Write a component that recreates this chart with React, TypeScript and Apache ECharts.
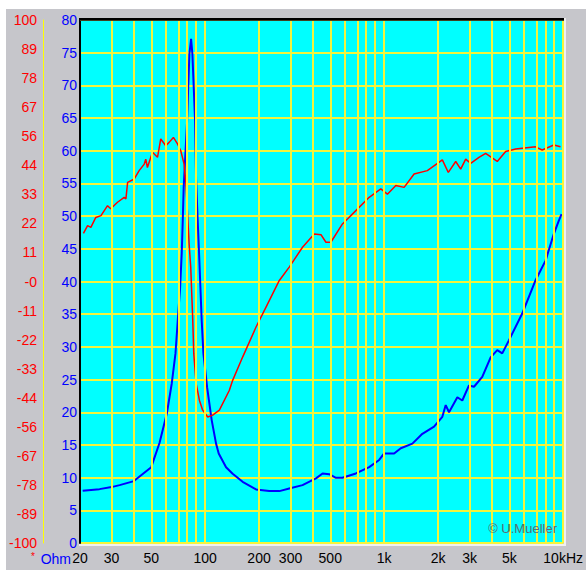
import React, { useEffect, useRef } from "react";
import * as echarts from "echarts";

// Impedance curve (Ohm) vs frequency (Hz)
const IMP_FREQ = [20.7, 25.7, 30, 33.3, 40, 50, 55.6, 61.1, 65.1, 68.3, 70.3, 72.5, 74.0, 75.0, 75.9, 77.6, 79.3, 80.4, 81.7, 83.5, 84.9, 86.4, 87.9, 89.0, 90.9, 92.5, 94.1, 95.7, 97.8, 102.6, 108.8, 115.1, 119.1, 130.9, 142.5, 162, 192.5, 228, 260, 295, 350, 416, 453, 493, 538, 585, 695, 825, 938, 1000, 1137, 1239, 1438, 1635, 1900, 2114, 2208, 2304, 2564, 2733, 2978, 3176, 3533, 3935, 4284, 4568, 4977, 5906, 7014, 7974, 8872, 9460, 9794];
const IMP_OHM = [7.98, 8.24, 8.55, 8.85, 9.47, 11.6, 15.3, 19.8, 24.4, 29.0, 34.0, 39.1, 44.3, 49.3, 54.4, 59.5, 64.5, 69.6, 74.8, 77.1, 74.8, 69.6, 64.5, 55.7, 49.3, 44.3, 39.1, 34.0, 29.0, 23.8, 18.8, 15.2, 13.7, 11.6, 10.6, 9.36, 8.2, 7.94, 7.94, 8.35, 8.85, 9.88, 10.64, 10.53, 9.97, 9.97, 10.64, 11.6, 12.7, 13.7, 13.7, 14.5, 15.2, 16.7, 17.8, 19.3, 21.1, 20.0, 22.3, 21.8, 24.1, 23.9, 25.4, 28.4, 29.5, 29.0, 31.0, 35.1, 40.2, 43.2, 47.3, 49.3, 50.3];

// Phase curve (degrees) vs frequency (Hz)
const PHASE_FREQ = [20.9, 22.05, 23.0, 24.5, 26.2, 28.5, 29.7, 32.4, 35.3, 36.1, 36.9, 40.2, 42.8, 45.7, 46.6, 47.6, 50.8, 54.2, 56.5, 60.3, 62.9, 66.5, 70.1, 73.1, 76.3, 77.9, 79.6, 81.4, 83.1, 85.3, 86.4, 89.0, 92.9, 96.9, 103.4, 110.2, 120.1, 136.6, 142.5, 162, 192.5, 218.9, 259.7, 295, 350, 407, 443.6, 473, 504, 585, 695, 825, 958, 1043, 1162, 1293, 1470, 1743, 2114, 2283, 2511, 2677, 2855, 3044, 3386, 3690, 4284, 4773, 5426, 7014, 7636, 8872, 9666];
const PHASE_DEG = [18.4, 21.4, 20.7, 24.5, 25.2, 29.0, 27.8, 30.3, 32.2, 31.6, 37.9, 39.2, 42.4, 44.9, 46.8, 43.6, 49.4, 47.5, 54.5, 51.9, 53.2, 55.1, 52.6, 50.0, 44.9, 38.6, 27.1, 14.4, 5.5, -14.9, -27.5, -38.9, -45.4, -49.2, -51.8, -51.1, -49.2, -41.6, -37.8, -28.9, -17.4, -9.8, 0.4, 5.5, 13.1, 18.2, 17.9, 15.0, 15.0, 22.0, 27.1, 32.2, 35.4, 33.4, 36.7, 36.0, 41.1, 42.4, 46.5, 41.7, 45.9, 43.0, 46.8, 45.2, 47.5, 49.0, 45.9, 49.7, 50.7, 51.5, 50.3, 52.2, 51.5];

// Axes
const X_MIN_FREQ = 20;
const X_MAX_FREQ = 10000;
const X_GRID_FREQ = [20, 30, 40, 50, 60, 70, 80, 90, 100, 200, 300, 400, 500, 600, 700, 800, 900, 1000, 2000, 3000, 4000, 5000, 6000, 7000, 8000, 9000, 10000];
const X_TICK_FREQ = [20, 30, 50, 100, 200, 300, 500, 1000, 2000, 3000, 5000, 10000];
const X_TICK_LABELS = ["20", "30", "50", "100", "200", "300", "500", "1k", "2k", "3k", "5k", "10kHz"];
const OHM_MIN = 0;
const OHM_MAX = 80;
const OHM_STEP = 5;
const PHASE_MIN = -100;
const PHASE_MAX = 100;
const PHASE_TICK_LABELS = ["-100", "-89", "-78", "-67", "-56", "-44", "-33", "-22", "-11", "-0", "11", "22", "33", "44", "56", "67", "78", "89", "100"];

const FONT = '"Liberation Sans", Arial, sans-serif';
const FS = 14;
const GRIDY = "#f4f43c";

export default function App() {
  const ref = useRef<HTMLDivElement>(null);

  useEffect(() => {
    if (!ref.current) return;
    const chart = echarts.init(ref.current, undefined, { renderer: "svg" });
    const lg = (f: number) => Math.log10(f);
    const phaseStep = (PHASE_MAX - PHASE_MIN) / (PHASE_TICK_LABELS.length - 1);

    const option: any = {
      animation: false,
      backgroundColor: "#c6c6cb",
      grid: {
        left: 80,
        right: 22,
        top: 20,
        bottom: 27,
        show: true,
        backgroundColor: "#00ffff",
        borderWidth: 0,
      },
      xAxis: {
        type: "value",
        min: lg(X_MIN_FREQ),
        max: lg(X_MAX_FREQ),
        axisLine: { show: false },
        axisTick: { show: false },
        splitLine: { show: false },
        axisLabel: {
          customValues: X_TICK_FREQ.map(lg),
          showMinLabel: true,
          showMaxLabel: true,
          color: "#000000",
          fontFamily: FONT,
          fontSize: FS,
          margin: 8,
          formatter: (v: number) => {
            const i = X_TICK_FREQ.findIndex((f) => Math.abs(lg(f) - v) < 1e-6);
            return i >= 0 ? X_TICK_LABELS[i] : "";
          },
        },
      },
      yAxis: [
        {
          type: "value",
          min: OHM_MIN,
          max: OHM_MAX,
          interval: OHM_STEP,
          position: "left",
          axisLine: { show: true, lineStyle: { color: "#000000", width: 2 } },
          axisTick: { show: false },
          splitLine: { show: true, lineStyle: { color: GRIDY, width: 2 } },
          axisLabel: {
            color: "#0000ff",
            fontFamily: FONT,
            fontSize: FS,
            margin: 3,
          },
        },
        {
          type: "value",
          min: PHASE_MIN,
          max: PHASE_MAX,
          interval: phaseStep,
          position: "left",
          offset: 37,
          axisLine: { show: true, lineStyle: { color: "#ffff00", width: 1 } },
          axisTick: { show: false },
          splitLine: { show: false },
          axisLabel: {
            color: "#ff0000",
            fontFamily: FONT,
            fontSize: FS,
            margin: 6,
            showMinLabel: true,
            showMaxLabel: true,
            formatter: (v: number) => PHASE_TICK_LABELS[Math.round((v - PHASE_MIN) / phaseStep)] ?? "",
          },
        },
      ],
      graphic: [
        { type: "rect", shape: { x: 0, y: 0, width: 586, height: 9 }, style: { fill: "#ffffff" }, silent: true },
        { type: "rect", shape: { x: 0, y: 0, width: 6, height: 570 }, style: { fill: "#ffffff" }, silent: true },
        { type: "line", shape: { x1: 79, y1: 19, x2: 565, y2: 19 }, style: { stroke: "#000000", lineWidth: 2 }, z: 100, silent: true },
        { type: "line", shape: { x1: 80, y1: 20.5, x2: 564, y2: 20.5 }, style: { stroke: "#404020", lineWidth: 1 }, z: 100, silent: true },
        { type: "line", shape: { x1: 565, y1: 18, x2: 565, y2: 546 }, style: { stroke: "#f0f0f0", lineWidth: 2 }, z: 100, silent: true },
        { type: "line", shape: { x1: 79, y1: 545, x2: 566, y2: 545 }, style: { stroke: "#f0f0f0", lineWidth: 2 }, z: 100, silent: true },
        {
          type: "text", x: 71, y: 559, z: 100, silent: true,
          style: { text: "Ohm", fill: "#0000ff", font: `${FS}px ${FONT}`, align: "right", verticalAlign: "middle" },
        },
        {
          type: "text", x: 33, y: 556, z: 100, silent: true,
          style: { text: "*", fill: "#ff0000", font: `10px ${FONT}`, align: "center", verticalAlign: "middle" },
        },
        {
          type: "text", x: 557, y: 528, z: 100, silent: true,
          style: { text: "© U.Mueller", fill: "#5a6e74", font: `13px ${FONT}`, align: "right", verticalAlign: "middle" },
        },
      ],
      series: [
        {
          type: "line",
          data: [],
          z: 1,
          silent: true,
          markLine: {
            silent: true,
            symbol: ["none", "none"],
            label: { show: false },
            emphasis: { disabled: true },
            lineStyle: { color: GRIDY, width: 2, type: "solid" },
            data: X_GRID_FREQ.map((f) => ({ xAxis: lg(f) })),
          },
        },
        {
          name: "Impedance",
          type: "line",
          yAxisIndex: 0,
          z: 3,
          showSymbol: false,
          symbol: "none",
          lineStyle: { color: "#0000ff", width: 2 },
          data: IMP_FREQ.map((f, i) => [lg(f), IMP_OHM[i]]),
        },
        {
          name: "Phase",
          type: "line",
          yAxisIndex: 1,
          z: 4,
          showSymbol: false,
          symbol: "none",
          lineStyle: { color: "#ff0000", width: 1.5 },
          data: PHASE_FREQ.map((f, i) => [lg(f), PHASE_DEG[i]]),
        },
      ],
    };

    chart.setOption(option);
    return () => chart.dispose();
  }, []);

  return (
    <div
      ref={ref}
      style={{ position: "absolute", left: 0, top: 0, width: 586, height: 570 }}
    />
  );
}
